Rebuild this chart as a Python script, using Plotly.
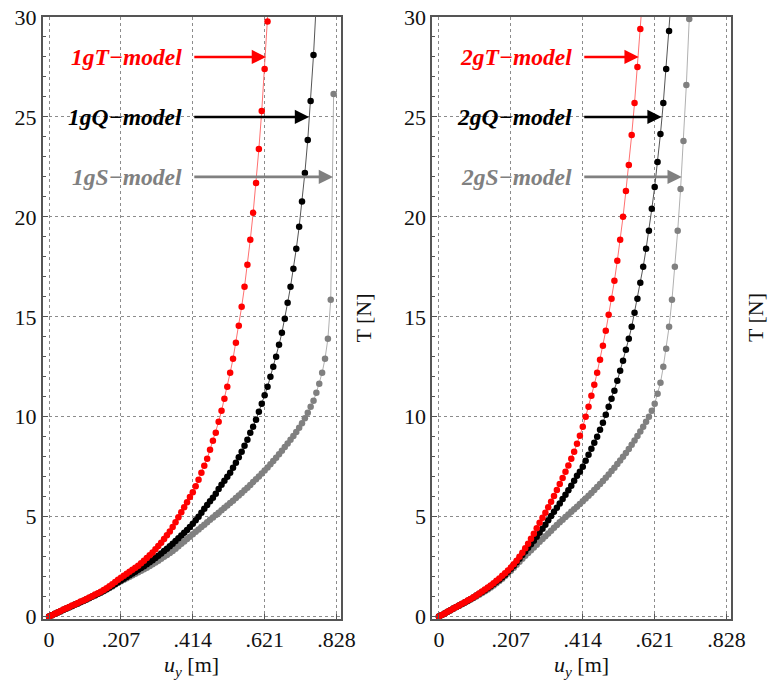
import plotly.graph_objects as go

uy_steps = [0.0000, 0.0083, 0.0166, 0.0248, 0.0331, 0.0414, 0.0497, 0.0580, 0.0662, 0.0745,
            0.0828, 0.0911, 0.0994, 0.1076, 0.1159, 0.1242, 0.1325, 0.1408, 0.1490, 0.1573,
            0.1656, 0.1739, 0.1822, 0.1904, 0.1987, 0.2070, 0.2153, 0.2236, 0.2318, 0.2401,
            0.2484, 0.2567, 0.2650, 0.2732, 0.2815, 0.2898, 0.2981, 0.3064, 0.3146, 0.3229,
            0.3312, 0.3395, 0.3478, 0.3560, 0.3643, 0.3726, 0.3809, 0.3892, 0.3974, 0.4057,
            0.4140, 0.4223, 0.4306, 0.4388, 0.4471, 0.4554, 0.4637, 0.4720, 0.4802, 0.4885,
            0.4968, 0.5051, 0.5134, 0.5216, 0.5299, 0.5382, 0.5465, 0.5548, 0.5630, 0.5713,
            0.5796, 0.5879, 0.5962, 0.6044, 0.6127, 0.6210, 0.6293, 0.6376, 0.6458, 0.6541,
            0.6624, 0.6707, 0.6790, 0.6872, 0.6955, 0.7038, 0.7121, 0.7204, 0.7286, 0.7369,
            0.7452, 0.7535, 0.7618, 0.7700, 0.7783, 0.7866, 0.7949, 0.8032, 0.8114, 0.8197,
            0.8280]

# Left panel: T [N]
T_1gT = [0.00, 0.07, 0.14, 0.21, 0.28, 0.35, 0.42, 0.48, 0.55, 0.61,
         0.68, 0.75, 0.81, 0.88, 0.95, 1.02, 1.10, 1.17, 1.24, 1.33,
         1.42, 1.52, 1.62, 1.73, 1.84, 1.94, 2.04, 2.14, 2.24, 2.34,
         2.44, 2.55, 2.67, 2.80, 2.93, 3.07, 3.21, 3.37, 3.53, 3.70,
         3.88, 4.07, 4.26, 4.48, 4.72, 4.97, 5.22, 5.47, 5.72, 5.98,
         6.22, 6.52, 6.85, 7.20, 7.55, 7.90, 8.35, 8.80, 9.20, 9.75,
         10.30, 10.90, 11.50, 12.20, 12.90, 13.70, 14.55, 15.50, 16.50, 17.60,
         18.85, 20.20, 21.70, 23.40, 25.30, 27.40, 29.77, 32.30]
T_1gQ = [0.00, 0.07, 0.14, 0.20, 0.27, 0.34, 0.40, 0.47, 0.53, 0.60,
         0.66, 0.73, 0.79, 0.86, 0.93, 1.00, 1.07, 1.14, 1.21, 1.29,
         1.37, 1.45, 1.54, 1.63, 1.72, 1.81, 1.89, 1.98, 2.07, 2.16,
         2.25, 2.34, 2.43, 2.52, 2.62, 2.72, 2.82, 2.93, 3.04, 3.16,
         3.28, 3.40, 3.52, 3.65, 3.78, 3.92, 4.06, 4.20, 4.33, 4.48,
         4.65, 4.82, 5.00, 5.20, 5.40, 5.58, 5.77, 5.95, 6.15, 6.38,
         6.60, 6.80, 7.00, 7.20, 7.45, 7.70, 7.97, 8.25, 8.55, 8.85,
         9.20, 9.50, 9.85, 10.25, 10.65, 11.07, 11.50, 12.00, 12.50, 13.00,
         13.60, 14.20, 14.90, 15.70, 16.50, 17.40, 18.40, 19.50, 20.77, 22.20,
         23.85, 25.80, 28.10, 30.80]
T_1gS = [0.00, 0.07, 0.13, 0.20, 0.26, 0.33, 0.39, 0.46, 0.52, 0.59,
         0.65, 0.72, 0.78, 0.85, 0.92, 0.99, 1.06, 1.13, 1.20, 1.27,
         1.35, 1.43, 1.51, 1.60, 1.69, 1.77, 1.84, 1.92, 1.99, 2.07,
         2.15, 2.22, 2.30, 2.37, 2.45, 2.53, 2.62, 2.71, 2.80, 2.89,
         2.99, 3.08, 3.18, 3.28, 3.40, 3.52, 3.64, 3.76, 3.88, 4.00,
         4.12, 4.24, 4.36, 4.48, 4.60, 4.72, 4.84, 4.96, 5.08, 5.20,
         5.32, 5.44, 5.56, 5.68, 5.80, 5.93, 6.06, 6.19, 6.32, 6.45,
         6.59, 6.73, 6.87, 7.01, 7.16, 7.31, 7.46, 7.62, 7.78, 7.95,
         8.12, 8.30, 8.48, 8.66, 8.85, 9.04, 9.24, 9.45, 9.67, 9.92,
         10.20, 10.50, 10.80, 11.20, 11.65, 12.20, 12.90, 13.90, 15.85, 26.15]

# Right panel: T [N]
T_2gT = [0.00, 0.08, 0.16, 0.24, 0.32, 0.40, 0.48, 0.56, 0.64, 0.72,
         0.80, 0.88, 0.97, 1.06, 1.15, 1.25, 1.35, 1.45, 1.56, 1.67,
         1.79, 1.91, 2.04, 2.17, 2.31, 2.46, 2.62, 2.80, 3.00, 3.20,
         3.42, 3.65, 3.90, 4.15, 4.42, 4.70, 4.95, 5.20, 5.47, 5.75,
         6.03, 6.33, 6.63, 6.93, 7.25, 7.56, 7.90, 8.25, 8.65, 9.05,
         9.50, 10.00, 10.50, 11.05, 11.60, 12.20, 12.85, 13.55, 14.30, 15.10,
         15.90, 16.80, 17.80, 18.85, 20.00, 21.30, 22.60, 24.10, 25.70, 27.50,
         29.40, 31.40]
T_2gQ = [0.00, 0.08, 0.16, 0.24, 0.32, 0.40, 0.48, 0.55, 0.63, 0.71,
         0.79, 0.87, 0.96, 1.05, 1.14, 1.23, 1.32, 1.42, 1.52, 1.63,
         1.74, 1.85, 1.97, 2.10, 2.24, 2.39, 2.55, 2.72, 2.90, 3.08,
         3.26, 3.44, 3.62, 3.80, 4.00, 4.20, 4.40, 4.60, 4.82, 5.03,
         5.24, 5.45, 5.66, 5.88, 6.10, 6.32, 6.55, 6.80, 7.05, 7.25,
         7.50, 7.80, 8.10, 8.40, 8.70, 9.00, 9.35, 9.70, 10.10, 10.50,
         10.90, 11.30, 11.80, 12.30, 12.80, 13.35, 13.90, 14.50, 15.20, 15.90,
         16.70, 17.50, 18.40, 19.30, 20.40, 21.50, 22.75, 24.15, 25.70, 27.40,
         29.30, 31.40]
T_2gS = [0.00, 0.08, 0.16, 0.24, 0.31, 0.39, 0.47, 0.54, 0.62, 0.70,
         0.77, 0.85, 0.93, 1.01, 1.09, 1.18, 1.27, 1.36, 1.45, 1.56,
         1.67, 1.78, 1.90, 2.03, 2.16, 2.30, 2.45, 2.60, 2.75, 2.90,
         3.04, 3.18, 3.32, 3.46, 3.60, 3.74, 3.88, 4.02, 4.16, 4.30,
         4.44, 4.58, 4.72, 4.85, 4.98, 5.11, 5.24, 5.37, 5.50, 5.63,
         5.77, 5.91, 6.05, 6.19, 6.34, 6.49, 6.64, 6.79, 6.95, 7.11,
         7.28, 7.45, 7.63, 7.81, 8.00, 8.19, 8.39, 8.60, 8.81, 9.03,
         9.26, 9.50, 9.75, 10.00, 10.30, 10.65, 11.15, 11.70, 12.50, 13.40,
         14.50, 15.85, 17.50, 19.30, 21.40, 23.80, 26.60, 29.90, 33.50]

x_tickvals = [0, 0.207, 0.414, 0.621, 0.828]
x_ticktext = ["0", ".207", ".414", ".621", ".828"]
y_tickvals = [0, 5, 10, 15, 20, 25, 30]

# label text, arrow level T, arrow head u_y
labels_left = [("1gT\u2212model", 28.0, 0.625), ("1gQ\u2212model", 25.0, 0.749), ("1gS\u2212model", 22.0, 0.818)]
labels_right = [("2gT\u2212model", 28.0, 0.575), ("2gQ\u2212model", 25.0, 0.641), ("2gS\u2212model", 22.0, 0.699)]
arrow_tail = 0.414

RED, BLACK, GRAY = "#ff0000", "#000000", "#808080"
LINE_COLORS = {RED: "#ff7070", BLACK: "#555555", GRAY: "#b0b0b0"}
SERIF = "Liberation Serif, Times New Roman, serif"
W, H = 782, 681
S = W / 770.0  # horizontal compensation

fig = go.Figure()

def add_series(T, color, xa, ya):
    fig.add_trace(go.Scatter(
        x=uy_steps[:len(T)], y=T, mode="lines+markers",
        line=dict(color=LINE_COLORS[color], width=1),
        marker=dict(color=color, size=6.5, line=dict(width=0)),
        xaxis=xa, yaxis=ya, showlegend=False, hoverinfo="skip"))

for T, c in [(T_1gS, GRAY), (T_1gQ, BLACK), (T_1gT, RED)]:
    add_series(T, c, "x", "y")
for T, c in [(T_2gS, GRAY), (T_2gQ, BLACK), (T_2gT, RED)]:
    add_series(T, c, "x2", "y2")

axis_common = dict(
    showgrid=True, gridcolor="#8c8c8c", griddash="dot", gridwidth=1,
    showline=True, linecolor="#555555", linewidth=2, mirror=True,
    ticks="inside", ticklen=5, tickcolor="#555555", zeroline=False,
    tickfont=dict(family=SERIF, size=22, color="#111111"),
)

fig.update_layout(
    width=W, height=H, autosize=False,
    font=dict(family=SERIF, size=22, color="#111111"),
    paper_bgcolor="white", plot_bgcolor="white",
    margin=dict(l=0, r=0, t=17, b=62, pad=0),
    xaxis=dict(domain=[43*S/W, 342*S/W], range=[-0.018, 0.840], anchor="y",
               tickvals=x_tickvals, ticktext=x_ticktext, **axis_common),
    yaxis=dict(domain=[0, 1], range=[-0.12, 30], anchor="x", tickvals=y_tickvals,
               minor=dict(dtick=1, ticks="inside", ticklen=3, tickcolor="#555555", showgrid=False),
               **axis_common),
    xaxis2=dict(domain=[434*S/W, 734*S/W], range=[-0.019, 0.841], anchor="y2",
                tickvals=x_tickvals, ticktext=x_ticktext, **axis_common),
    yaxis2=dict(domain=[0, 1], range=[-0.12, 30], anchor="x2", tickvals=y_tickvals,
                minor=dict(dtick=1, ticks="inside", ticklen=3, tickcolor="#555555", showgrid=False),
                **axis_common),
)

colors = [RED, BLACK, GRAY]
annotations = []
for (labels, xr, yr, tx) in [(labels_left, "x", "y", 364), (labels_right, "x2", "y2", 758)]:
    for (txt, lev, head), col in zip(labels, colors):
        annotations.append(dict(
            x=0.39, y=lev, xref=xr, yref=yr, xanchor="right", yanchor="middle",
            text="<b><i>%s</i></b>" % txt, showarrow=False,
            font=dict(family=SERIF, size=23.5, color=col)))
        annotations.append(dict(
            x=head, y=lev, ax=arrow_tail, ay=lev, xref=xr, yref=yr, axref=xr, ayref=yr,
            text="", showarrow=True, arrowhead=2, arrowsize=1.1, arrowwidth=2.6,
            arrowcolor=col, standoff=0))
    # axis titles
    annotations.append(dict(
        x=0.5, y=0, xref=xr + " domain", yref=yr + " domain", xanchor="center", yanchor="middle",
        yshift=-47, showarrow=False, text="<i>u</i><sub><i>y</i></sub> [m]",
        font=dict(family=SERIF, size=22, color="#111111")))
    annotations.append(dict(
        x=tx * S / W, y=0.5, xref="paper", yref=yr + " domain", xanchor="center", yanchor="middle",
        showarrow=False, text="T [N]", textangle=-90,
        font=dict(family=SERIF, size=22, color="#111111")))

fig.update_layout(annotations=annotations)
fig.write_html("out.html", config={"displayModeBar": False, "responsive": False},
               post_script="document.body.style.margin='0px';document.body.style.overflow='hidden';")
